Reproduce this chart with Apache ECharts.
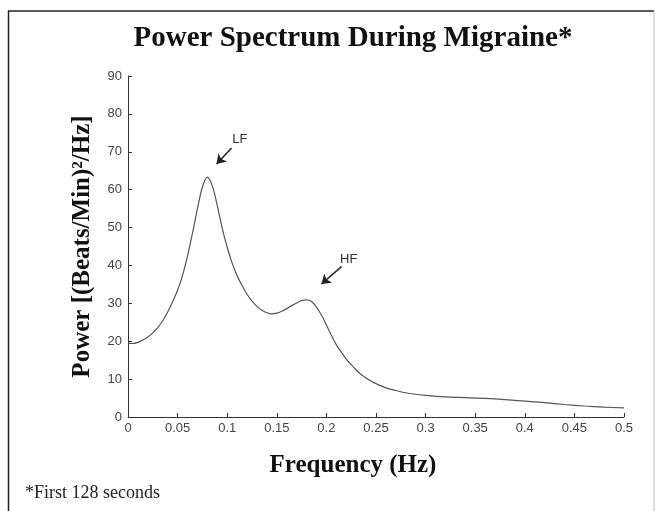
<!DOCTYPE html>
<html>
<head>
<meta charset="utf-8">
<script src="https://cdn.jsdelivr.net/npm/echarts@6/dist/echarts.min.js"></script>
<style>
  html, body { margin: 0; padding: 0; background: #fff; }
  #main { width: 655px; height: 511px; }
</style>
</head>
<body>
<div id="main"></div>
<script>
// frequency (Hz) and power
var freq = [0, 0.005, 0.01, 0.015, 0.02, 0.025, 0.03, 0.035, 0.04, 0.045,
  0.05, 0.055, 0.06, 0.065, 0.07, 0.075, 0.08, 0.085, 0.09, 0.095,
  0.1, 0.105, 0.11, 0.115, 0.12, 0.125, 0.13, 0.135, 0.14, 0.145,
  0.15, 0.155, 0.16, 0.165, 0.17, 0.175, 0.18, 0.185, 0.19, 0.195,
  0.2, 0.205, 0.21, 0.215, 0.22, 0.225, 0.23, 0.235, 0.24, 0.245,
  0.25, 0.26, 0.27, 0.28, 0.29, 0.3, 0.32, 0.34, 0.36, 0.38,
  0.4, 0.42, 0.44, 0.46, 0.48, 0.5];
var power = [19.5, 19.4, 19.7, 20.3, 21.1, 22.2, 23.6, 25.4, 27.7, 30.4,
  33.5, 37.4, 42.5, 48.5, 55, 60.7, 63.3, 61, 55.8, 49.8,
  44.8, 40.6, 37.3, 34.7, 32.4, 30.6, 29.2, 28.2, 27.5, 27.2,
  27.4, 27.9, 28.6, 29.4, 30.1, 30.7, 30.9, 30.5, 29.0, 26.9,
  24.3, 21.6, 19.1, 17.1, 15.3, 13.8, 12.4, 11.2, 10.3, 9.5,
  8.8, 7.7, 7.0, 6.4, 6.0, 5.7, 5.3, 5.1, 4.9, 4.6,
  4.2, 3.8, 3.3, 2.9, 2.6, 2.4];

// annotation labels and arrows (data coords)
var peakNames = ['LF', 'HF'];
var labelPos = [[0.1128, 73.3], [0.2225, 41.5]];
var arrowFrom = [[0.1044, 71], [0.2152, 39.7]];
var arrowTo = [[0.0893, 66.8], [0.195, 35.1]];

var serif = '"Liberation Serif", "Times New Roman", serif';
var sans = '"Liberation Sans", Arial, sans-serif';

var chart = echarts.init(document.getElementById('main'));

var lineData = [];
for (var i = 0; i < freq.length; i++) {
  lineData.push([freq[i], power[i]]);
}

var arrows = [];
var labels = [];
for (var j = 0; j < peakNames.length; j++) {
  arrows.push([{ coord: arrowFrom[j] }, { coord: arrowTo[j] }]);
  labels.push({ name: peakNames[j], coord: labelPos[j] });
}

var option = {
  backgroundColor: '#fff',
  animation: false,
  title: {
    text: 'Power Spectrum During Migraine*',
    left: 348,
    textAlign: 'center',
    top: 19,
    textStyle: { fontFamily: serif, fontWeight: 'bold', fontSize: 29, color: '#111' }
  },
  grid: { left: 128, right: 31, top: 76, bottom: 94 },
  xAxis: {
    type: 'value',
    min: 0,
    max: 0.5,
    interval: 0.05,
    name: 'Frequency (Hz)',
    nameLocation: 'middle',
    nameGap: 36,
    nameTextStyle: { fontFamily: serif, fontWeight: 'bold', fontSize: 25, color: '#111', padding: [0, 46, 0, 0] },
    axisLine: { lineStyle: { color: '#333', width: 1 } },
    axisTick: { inside: true, length: 4, lineStyle: { color: '#333' } },
    axisLabel: { fontFamily: sans, fontSize: 13, color: '#444', margin: 5 },
    splitLine: { show: false }
  },
  yAxis: {
    type: 'value',
    min: 0,
    max: 90,
    interval: 10,
    name: 'Power [(Beats/Min)²/Hz]',
    nameLocation: 'middle',
    nameGap: 33,
    nameTextStyle: { fontFamily: serif, fontWeight: 'bold', fontSize: 25, color: '#111' },
    axisLine: { show: true, lineStyle: { color: '#333', width: 1 } },
    axisTick: { show: true, inside: true, length: 4, lineStyle: { color: '#333' } },
    axisLabel: { fontFamily: sans, fontSize: 13, color: '#444', margin: 6 },
    splitLine: { show: false }
  },
  series: [{
    type: 'line',
    data: lineData,
    smooth: 0.3,
    showSymbol: false,
    lineStyle: { color: '#555', width: 1.2 },
    markLine: {
      silent: true,
      symbol: ['none', 'arrow'],
      symbolSize: 9,
      lineStyle: { color: '#222', width: 1.5, type: 'solid' },
      label: { show: false },
      data: arrows
    },
    markPoint: {
      silent: true,
      symbol: 'circle',
      symbolSize: 1,
      itemStyle: { color: 'rgba(0,0,0,0)' },
      label: {
        show: true,
        position: 'inside',
        formatter: '{b}',
        fontFamily: sans,
        fontSize: 13,
        color: '#333'
      },
      data: labels
    }
  }],
  graphic: [
    { type: 'line', shape: { x1: 8, y1: 11, x2: 654, y2: 11 }, style: { stroke: '#222', lineWidth: 1.5 } },
    { type: 'line', shape: { x1: 8.5, y1: 11, x2: 8.5, y2: 511 }, style: { stroke: '#222', lineWidth: 1.5 } },
    { type: 'line', shape: { x1: 654, y1: 11, x2: 654, y2: 511 }, style: { stroke: '#bbb', lineWidth: 1 } },
    {
      type: 'text',
      left: 25,
      top: 484,
      style: { text: '*First 128 seconds', fontFamily: serif, fontSize: 18, fill: '#222' }
    }
  ]
};

chart.setOption(option);
</script>
</body>
</html>
